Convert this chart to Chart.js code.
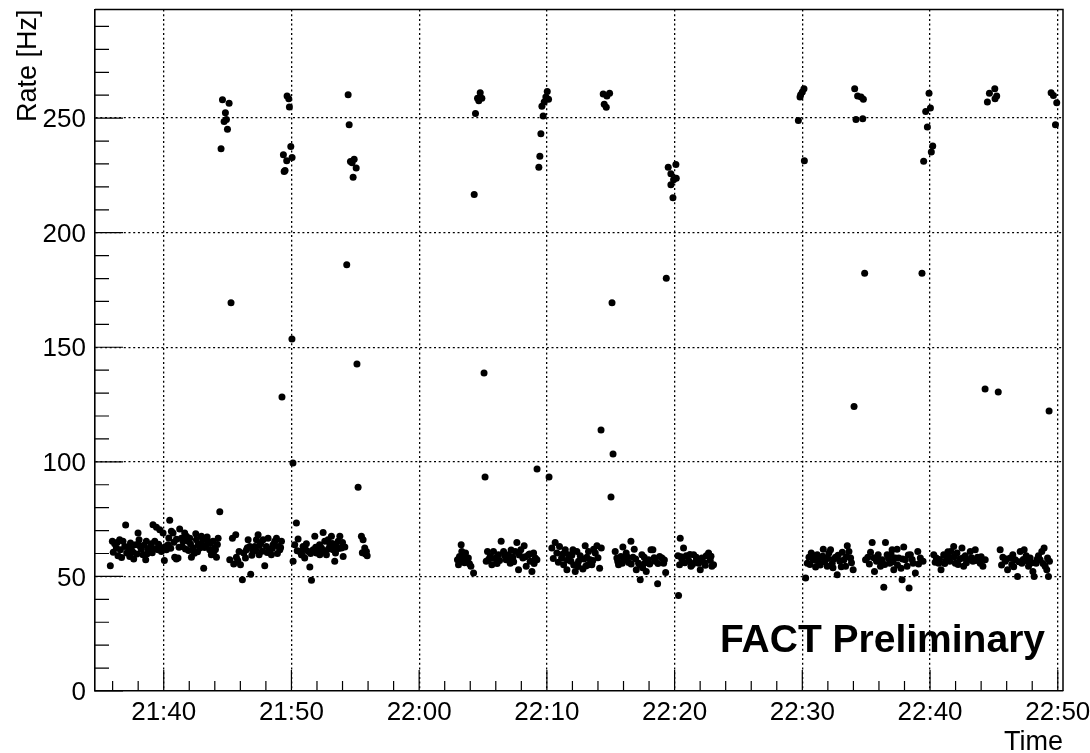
<!DOCTYPE html>
<html>
<head>
<meta charset="utf-8">
<script src="https://cdn.jsdelivr.net/npm/chart.js@4.4.1/dist/chart.umd.min.js"></script>
<style>
  html, body { margin: 0; padding: 0; background: #fff; }
  #rate { display: block; }
</style>
</head>
<body>
<canvas id="rate" width="1090" height="753"></canvas>
<script>
// time = minutes after 21:00, rate in Hz
var xMin = 34.62, xMax = 110.41;
var yMin = 0, yMax = 297.4;

var bandA = [[35.82,54.7],[35.98,65.3],[36.05,60.5],[36.16,64.3],[36.29,62.4],[36.35,64.8],[36.42,59.0],[36.55,66.0],[36.61,61.6],[36.7,58.3],
  [36.81,65.3],[36.95,63.1],[37.02,72.4],[37.1,60.2],[37.21,62.8],[37.34,58.7],[37.4,64.6],[37.47,61.9],[37.6,60.5],[37.65,57.6],
  [37.81,63.8],[37.9,59.8],[37.99,68.9],[38.07,66.0],[38.15,63.2],[38.25,61.9],[38.38,59.5],[38.45,63.6],[38.59,57.3],[38.64,65.3],
  [38.7,59.9],[38.77,61.6],[38.90,60.9],[38.95,62.8],[39.03,64.3],[39.1,60.3],[39.16,72.6],[39.30,65.3],[39.35,62.1],[39.43,71.5],
  [39.56,61.6],[39.6,64.0],[39.69,70.4],[39.82,60.9],[39.9,62.2],[39.95,68.9],[40.05,57.0],[40.1,63.0],[40.21,61.6],[40.34,63.8],
  [40.4,66.8],[40.47,74.5],[40.55,62.3],[40.60,69.7],[40.73,68.9],[40.8,64.9],[40.86,58.4],[40.99,57.6],[41.0,66.2],[41.12,58.0],
  [41.2,62.7],[41.25,70.7],[41.38,66.7],[41.45,63.1],[41.51,65.3],[41.64,68.9],[41.7,62.0],[41.78,67.5],[41.91,65.3],[41.95,61.3],
  [42.04,66.7],[42.1,64.2],[42.17,58.4],[42.30,62.4],[42.4,60.1],[42.51,68.6],[42.56,66.0],[42.65,60.8],[42.69,63.8],[42.82,62.4],
  [42.9,64.0],[42.95,67.5],[43.08,66.0],[43.13,53.6],[43.2,62.6],[43.29,63.4],[43.4,67.2],[43.47,65.3],[43.60,61.6],[43.65,64.4],
  [43.73,59.5],[43.86,65.3],[43.9,60.4],[43.99,62.4],[44.05,61.8],[44.13,58.4],[44.2,63.9],[44.26,66.7],[44.39,78.2]];

var bandB = [[45.17,57.3],[45.38,66.7],[45.48,55.4],[45.64,68.2],[45.69,58.4],[45.8,57.0],[45.90,60.9],[46.01,55.1],[46.16,48.5],[46.27,60.2],
  [46.4,58.0],[46.48,61.6],[46.55,62.5],[46.61,66.0],[46.74,63.1],[46.81,51.0],[46.9,59.2],[47.00,60.9],[47.13,63.1],[47.2,61.5],
  [47.26,66.0],[47.39,68.2],[47.47,59.5],[47.5,63.5],[47.60,64.6],[47.7,61.0],[47.78,66.0],[47.91,54.7],[48.04,63.1],[48.1,60.4],
  [48.17,66.7],[48.30,61.9],[48.43,59.5],[48.5,62.2],[48.56,63.8],[48.69,65.3],[48.83,66.7],[48.9,60.0],[48.96,63.1],[49.09,61.6],
  [49.15,62.6],[49.22,65.3]];

var bandC = [[50.13,56.6],[50.26,63.8],[50.39,73.3],[50.45,61.2],[50.52,66.3],[50.65,60.9],[50.78,59.5],[50.85,59.4],[50.91,63.1],[51.04,58.0],
  [51.1,61.8],[51.17,64.3],[51.33,60.9],[51.44,54.1],[51.5,60.0],[51.57,48.3],[51.70,61.6],[51.83,67.5],[51.9,62.7],[51.96,60.2],
  [52.09,61.6],[52.2,63.8],[52.22,59.5],[52.35,62.4],[52.48,69.2],[52.55,61.2],[52.61,65.3],[52.74,59.5],[52.87,66.0],[52.9,62.0],
  [53.00,63.8],[53.13,67.5],[53.2,64.4],[53.26,61.6],[53.39,56.6],[53.45,60.2],[53.52,63.1],[53.66,65.3],[53.7,62.2],[53.79,67.5],
  [53.92,62.4],[54.0,64.8],[54.05,58.7],[54.18,62.8],[55.22,88.9],[55.48,67.5],[55.55,60.3],[55.61,66.0],[55.74,62.4],[55.8,59.8],
  [55.87,60.9],[55.93,59.0]];

var bandD = [[63.00,57.3],[63.08,55.1],[63.16,58.7],[63.2,56.4],[63.29,63.8],[63.34,60.9],[63.47,58.4],[63.55,56.0],[63.63,60.2],[63.73,57.3],
  [63.85,58.0],[63.94,55.5],[64.05,54.4],[64.26,51.5]];

var bandE = [[65.25,56.6],[65.35,60.9],[65.45,57.5],[65.56,58.7],[65.69,55.1],[65.82,60.9],[65.9,57.8],[66.03,58.0],[66.1,55.6],[66.21,59.5],
  [66.3,57.0],[66.42,65.3],[66.61,60.9],[66.7,59.0],[66.81,57.3],[67.00,59.5],[67.05,57.6],[67.13,55.8],[67.2,61.5],[67.34,58.4],
  [67.4,56.4],[67.52,60.9],[67.65,64.8],[67.78,52.9],[67.85,59.3],[67.96,61.6],[68.12,58.0],[68.22,63.4],[68.3,58.6],[68.38,54.4],
  [68.56,59.5],[68.65,59.8],[68.69,56.6],[68.83,52.2],[68.96,60.2],[69.0,55.6],[69.09,58.0],[69.22,57.3]];

var bandF = [[70.39,62.4],[70.5,57.8],[70.65,64.8],[70.78,60.2],[70.9,56.2],[70.99,63.1],[71.15,58.0],[71.25,59.8],[71.31,55.1],[71.44,61.6],
  [71.57,52.9],[71.6,57.2],[71.70,59.5],[71.88,56.6],[71.95,59.2],[72.04,61.6],[72.1,55.0],[72.22,52.2],[72.35,60.9],[72.45,54.3],
  [72.48,56.6],[72.61,59.0],[72.82,53.2],[72.9,57.6],[73.00,63.4],[73.05,54.6],[73.13,58.4],[73.2,55.0],[73.26,60.9],[73.39,57.3],
  [73.52,55.1],[73.6,57.0],[73.66,61.9],[73.79,60.2],[73.92,63.4],[74.0,58.2],[74.13,53.6],[74.26,62.4]];

var bandG = [[75.35,60.9],[75.48,58.0],[75.55,56.5],[75.61,55.1],[75.80,58.7],[75.9,55.8],[75.95,62.8],[76.06,57.3],[76.21,60.2],[76.3,58.5],
  [76.40,56.1],[76.58,65.3],[76.6,55.4],[76.74,58.4],[76.84,61.9],[76.95,57.6],[77.00,52.9],[77.18,55.8],[77.3,55.0],[77.31,48.5],
  [77.44,59.5],[77.5,53.8],[77.62,58.4],[77.7,56.0],[77.78,52.2],[77.96,57.3],[78.05,55.4],[78.15,61.6],[78.30,61.6],[78.4,58.2],
  [78.49,56.6],[78.67,46.8],[78.7,55.6],[78.83,58.7],[79.01,58.0],[79.14,55.8],[79.2,57.2],[79.30,51.7]];

var bandH = [[80.26,59.0],[80.31,41.7],[80.39,55.1],[80.44,66.7],[80.5,58.6],[80.57,57.6],[80.70,62.4],[80.8,56.0],[80.91,59.0],[81.10,57.0],
  [81.2,59.6],[81.28,54.4],[81.4,55.2],[81.49,59.5],[81.6,56.2],[81.70,58.4],[81.88,55.8],[82.01,52.9],[82.05,57.2],[82.14,58.0],
  [82.32,56.1],[82.4,54.9],[82.48,59.0],[82.66,60.2],[82.79,57.0],[82.85,58.8],[82.92,54.4],[83.05,55.1]];

var bandI = [[90.26,49.3],[90.39,55.8],[90.52,58.4],[90.6,55.2],[90.70,60.2],[90.86,57.3],[90.95,59.0],[91.04,54.1],[91.1,57.0],[91.17,59.5],
  [91.30,56.1],[91.4,55.0],[91.48,58.4],[91.6,58.8],[91.64,61.9],[91.75,56.4],[91.82,57.3],[91.95,54.4],[92.0,57.9],[92.08,60.2],
  [92.21,61.6],[92.34,55.8],[92.4,53.8],[92.47,57.6],[92.60,58.4],[92.73,50.7],[92.8,59.2],[92.94,56.6],[93.05,54.2],[93.13,60.5],
  [93.26,57.3],[93.39,54.4],[93.45,58.6],[93.52,63.4],[93.65,60.9],[93.78,58.0],[93.85,56.0],[93.98,52.9]];

var bandJ = [[94.95,57.3],[95.13,58.4],[95.25,55.4],[95.34,60.5],[95.47,64.8],[95.6,58.2],[95.65,52.2],[95.81,56.6],[95.94,59.5],[96.0,57.0],
  [96.12,54.4],[96.25,57.3],[96.38,45.3],[96.45,55.2],[96.51,64.8],[96.64,59.5],[96.75,57.8],[96.85,55.8],[96.95,59.6],[97.03,61.6],
  [97.1,56.4],[97.16,52.9],[97.29,58.0],[97.42,61.9],[97.45,55.0],[97.55,58.0],[97.73,53.6],[97.81,48.5],[97.85,57.6],[97.94,62.8],
  [98.07,57.3],[98.20,54.4],[98.3,59.4],[98.36,44.9],[98.46,59.5],[98.6,57.4],[98.67,55.8],[98.85,51.5],[99.04,60.9],[99.1,55.4],
  [99.24,58.0],[99.45,56.6]];

var bandK = [[100.29,59.5],[100.4,56.2],[100.49,58.0],[100.68,55.8],[100.75,57.4],[100.86,52.9],[101.07,59.5],[101.15,55.6],[101.28,57.3],[101.4,60.8],
  [101.46,58.4],[101.55,56.6],[101.64,60.9],[101.85,63.1],[101.9,58.6],[101.98,55.8],[102.11,60.2],[102.2,55.2],[102.32,57.6],[102.50,62.4],
  [102.55,58.0],[102.63,54.4],[102.76,59.0],[102.85,56.0],[102.94,57.3],[103.15,60.9],[103.25,58.2],[103.36,56.6],[103.54,61.6],[103.6,57.0],
  [103.72,58.4],[103.93,55.8],[104.0,58.6],[104.14,54.4],[104.32,57.3]];

var bandL = [[105.49,61.6],[105.6,55.0],[105.70,58.4],[105.89,56.6],[106.0,57.6],[106.07,52.9],[106.28,58.0],[106.4,55.2],[106.48,59.5],[106.55,54.2],
  [106.67,57.3],[106.85,50.0],[106.95,56.4],[107.06,60.9],[107.19,55.8],[107.3,57.4],[107.37,61.6],[107.53,59.0],[107.65,56.6],[107.71,54.4],
  [107.84,58.0],[108.0,56.0],[108.05,52.2],[108.15,50.0],[108.31,55.8],[108.4,57.6],[108.49,59.0],[108.62,57.3],[108.75,60.9],[108.85,55.6],
  [108.93,62.4],[109.01,54.4],[109.14,52.9],[109.2,58.0],[109.27,50.0],[109.35,56.6]];

var high1 = [[44.49,236.6],[44.60,258.0],[44.73,248.5],[44.83,252.3],[44.91,249.4],[44.99,245.1],[45.12,256.5],[45.27,169.4],
  [49.26,128.3],[49.37,234.0],[49.43,226.7],[49.50,227.1],[49.63,231.4],[49.66,259.6],[49.79,258.4],[49.84,254.9],[49.95,237.6],
  [50.04,153.6],[50.05,232.8],[50.12,99.5],
  [54.33,186.0],[54.44,260.2],[54.52,247.1],[54.62,231.1],[54.75,230.5],[54.83,224.2],[54.91,232.0],[55.07,228.2],[55.13,142.7]];

var high2 = [[64.31,216.7],[64.41,252.0],[64.57,258.7],[64.67,257.6],[64.78,261.1],[64.91,258.7],[65.08,138.8],[65.16,93.4],
  [69.23,96.9],[69.37,228.6],[69.45,233.4],[69.53,243.2],[69.61,255.2],[69.71,250.9],[69.79,257.0],[69.92,259.2],[70.03,261.6],
  [70.13,258.2],[70.17,93.4],
  [74.24,113.9],[74.41,260.5],[74.49,256.1],[74.65,254.7],[74.70,259.6],[74.91,260.8],[75.02,84.7],[75.10,169.4],[75.18,103.4],
  [79.35,180.1],[79.50,228.6],[79.71,225.7],[79.71,220.9],[79.87,215.2],[79.92,223.1],[80.10,229.8],[80.13,223.8]];

var high3 = [[89.69,249.0],[89.82,259.2],[89.87,260.2],[90.00,261.4],[90.13,262.8],[90.16,231.4],
  [94.05,124.2],[94.10,262.8],[94.20,249.4],[94.33,259.6],[94.60,259.2],[94.73,249.7],[94.78,258.2],[94.88,182.3],
  [99.37,182.3],[99.50,231.2],[99.66,252.9],[99.79,246.1],[99.92,260.8],[100.03,254.4],[100.10,235.2],[100.21,237.8],
  [104.31,131.8],[104.49,257.0],[104.65,260.8],[105.07,262.8],[105.09,258.4],[105.22,259.6],[105.34,130.5],
  [109.32,122.2],[109.48,261.1],[109.66,259.9],[109.82,247.1],[109.92,256.7]];

var allBands = [bandA, bandB, bandC, bandD, bandE, bandF, bandG, bandH, bandI, bandJ, bandK, bandL, high1, high2, high3];
var points = [];
allBands.forEach(function(b) {
	b.forEach(function(p) { points.push({ x: p[0], y: p[1] }); });
});

function timeLabel(v) {
	var h = 21 + Math.floor(v / 60);
	var m = Math.round(v % 60);
	return h + ":" + (m < 10 ? "0" + m : m);
}

var fontFamily = '"Liberation Sans", Arial, Helvetica, sans-serif';
Chart.defaults.font.family = fontFamily;
Chart.defaults.color = '#000';

// ROOT style frame: top/right border plus inward major and minor ticks
var rootFrame = {
	id : 'rootFrame',
	beforeDatasetsDraw : function(chart) {
		var ctx = chart.ctx, a = chart.chartArea;
		var xs = chart.scales.x, ys = chart.scales.y;
		ctx.save();
		ctx.strokeStyle = '#000';
		ctx.lineWidth = 1.5;
		ctx.beginPath();
		ctx.moveTo(a.left, a.top);
		ctx.lineTo(a.right, a.top);
		ctx.lineTo(a.right, a.bottom);
		ctx.stroke();
		ctx.lineWidth = 1.2;
		ctx.beginPath();
		for (var m = Math.ceil(xs.min / 2) * 2; m <= xs.max; m += 2) {
			var px = xs.getPixelForValue(m);
			var len = (m % 10 === 0) ? 21 : 10;
			ctx.moveTo(px, a.bottom);
			ctx.lineTo(px, a.bottom - len);
		}
		for (var v = 0; v <= ys.max; v += 10) {
			var py = ys.getPixelForValue(v);
			var len2 = (v % 50 === 0) ? 28 : 14;
			ctx.moveTo(a.left, py);
			ctx.lineTo(a.left + len2, py);
		}
		ctx.stroke();
		ctx.restore();
	}
};

var factLabel = {
	id : 'factLabel',
	afterDraw : function(chart) {
		var ctx = chart.ctx, a = chart.chartArea;
		ctx.save();
		ctx.font = 'bold 39px ' + fontFamily;
		ctx.fillStyle = '#000';
		ctx.textAlign = 'right';
		ctx.textBaseline = 'alphabetic';
		ctx.fillText('FACT Preliminary', a.right - 18, a.bottom - 39);
		ctx.restore();
	}
};

var gridColor = function(c) {
	return (c.tick && c.tick.value === 0) ? 'rgba(0,0,0,0)' : '#000';
};

var ctxR = document.getElementById('rate').getContext('2d');
var rateChart = new Chart(ctxR, {
	type : 'scatter',
	data : {
		datasets : [ {
			label : 'Rate',
			data : points,
			backgroundColor : '#000',
			borderColor : '#000',
			borderWidth : 0,
			pointRadius : 3.5,
			pointHoverRadius : 3.5
		} ]
	},
	options : {
		responsive : false,
		animation : false,
		events : [],
		layout : {
			padding : { top : 9.5, right : 27, bottom : 0, left : 0 }
		},
		plugins : {
			legend : { display : false },
			tooltip : { enabled : false }
		},
		scales : {
			x : {
				type : 'linear',
				position : 'bottom',
				min : xMin,
				max : xMax,
				ticks : {
					stepSize : 10,
					includeBounds : false,
					autoSkip : false,
					maxRotation : 0,
					padding : 6,
					color : '#000',
					font : { size : 26 },
					callback : timeLabel
				},
				grid : { color : gridColor, lineWidth : 1.3, drawTicks : false },
				border : { display : true, color : '#000', width : 1.6, dash : [ 2, 2.7 ] },
				title : {
					display : true,
					text : 'Time',
					align : 'end',
					color : '#000',
					font : { size : 27, lineHeight : 0.8 },
					padding : 0
				},
				afterFit : function(s) {
					s.height = 62;
					s.paddingLeft = 0;
					s.paddingRight = 0;
				}
			},
			y : {
				type : 'linear',
				min : yMin,
				max : yMax,
				ticks : {
					stepSize : 50,
					includeBounds : false,
					padding : 9,
					labelOffset : 2,
					color : '#000',
					font : { size : 26 }
				},
				grid : { color : gridColor, lineWidth : 1.3, drawTicks : false },
				border : { display : true, color : '#000', width : 1.6, dash : [ 2, 2.7 ] },
				title : {
					display : true,
					text : 'Rate [Hz]',
					align : 'end',
					color : '#000',
					font : { size : 27 },
					padding : { top : 12, bottom : 0 }
				},
				afterFit : function(s) {
					s.width = 95;
					s.paddingTop = 0;
					s.paddingBottom = 0;
				}
			}
		}
	},
	plugins : [ rootFrame, factLabel ]
});
</script>
</body>
</html>
